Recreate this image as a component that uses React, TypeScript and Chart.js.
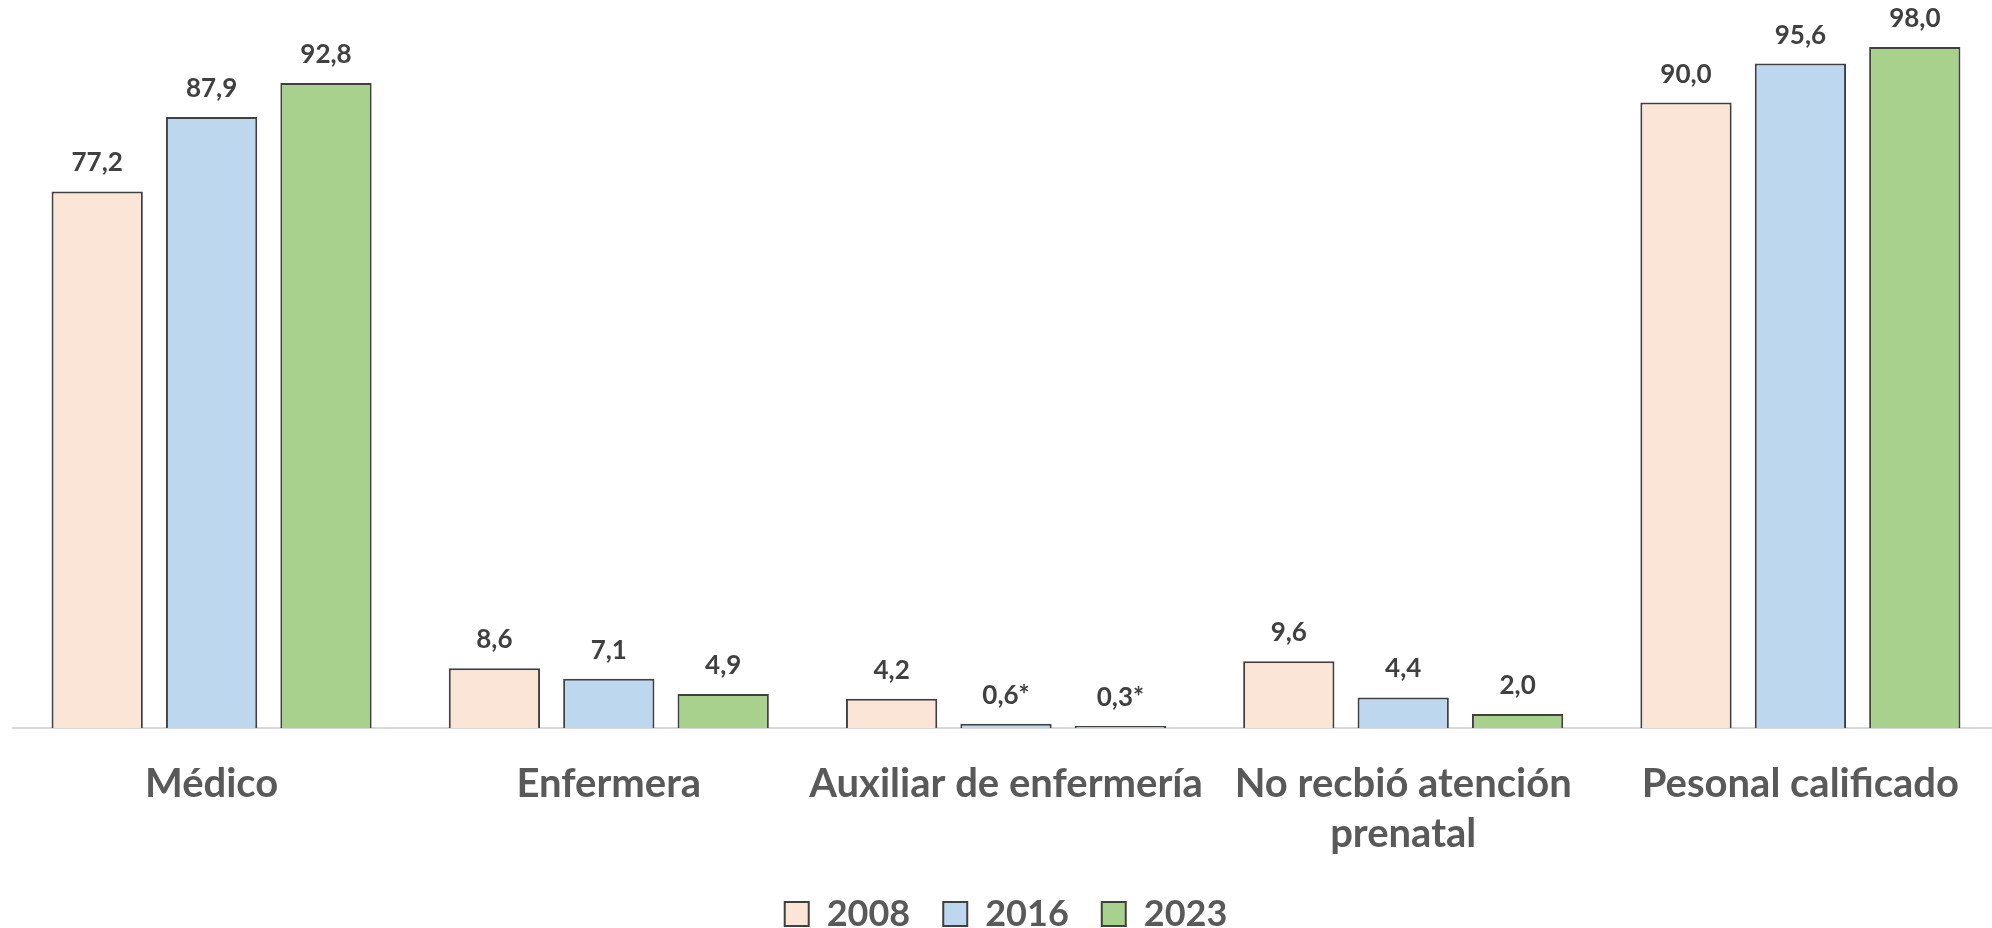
import React, { useEffect, useRef } from "react";
import { Chart, registerables } from "chart.js";

Chart.register(...registerables);

const categories: (string | string[])[] = [
  "Médico",
  "Enfermera",
  "Auxiliar de enfermería",
  ["No recbió atención", "prenatal"],
  "Pesonal calificado",
];

const seriesNames = ["2008", "2016", "2023"];

const values2008 = [77.2, 8.6, 4.2, 9.6, 90.0];
const values2016 = [87.9, 7.1, 0.6, 4.4, 95.6];
const values2023 = [92.8, 4.9, 0.3, 2.0, 98.0];

// "*" marks shown next to some data labels
const notes2008 = ["", "", "", "", ""];
const notes2016 = ["", "", "*", "", ""];
const notes2023 = ["", "", "*", "", ""];

const fillColors = ["#FBE5D6", "#BDD7EE", "#A9D18E"];
const borderColor = "#404040";
const FONT = "Lato";

const fmt = (v: number) => v.toFixed(1).replace(".", ",");

const dataLabelPlugin = {
  id: "dataLabels",
  afterDatasetsDraw(chart: any) {
    const ctx = chart.ctx;
    ctx.save();
    ctx.font = `bold 26px ${FONT}`;
    ctx.fillStyle = "#404040";
    ctx.textAlign = "center";
    ctx.textBaseline = "alphabetic";
    chart.data.datasets.forEach((ds: any, di: number) => {
      const meta = chart.getDatasetMeta(di);
      meta.data.forEach((bar: any, i: number) => {
        const v = ds.data[i];
        const note = ds.notes ? ds.notes[i] : "";
        ctx.fillText(fmt(v) + note, bar.x, bar.y - 20);
      });
    });
    ctx.restore();
  },
};

export default function App() {
  const canvasRef = useRef<HTMLCanvasElement | null>(null);

  useEffect(() => {
    if (!canvasRef.current) return;
    const allValues = [values2008, values2016, values2023];
    const allNotes = [notes2008, notes2016, notes2023];
    const chart = new Chart(canvasRef.current, {
      type: "bar",
      data: {
        labels: categories,
        datasets: seriesNames.map((name, k) => ({
          label: name,
          data: allValues[k],
          notes: allNotes[k],
          backgroundColor: fillColors[k],
          borderColor: borderColor,
          borderWidth: 2,
          categoryPercentage: 0.864,
          barPercentage: 0.798,
        })) as any,
      },
      options: {
        responsive: false,
        animation: false,
        events: [],
        layout: { padding: { left: 13, right: 0, top: 33, bottom: -14 } },
        scales: {
          x: {
            grid: { display: false, drawTicks: false },
            border: { display: true, color: "#D9D9D9", width: 2 },
            afterFit: (scale: any) => {
              scale.height = 135;
            },
            ticks: {
              autoSkip: false,
              maxRotation: 0,
              minRotation: 0,
              padding: 31,
              color: "#595959",
              font: { family: FONT, size: 40, weight: "bold", lineHeight: 1.25 },
            },
          },
          y: {
            display: false,
            min: 0,
            max: 100,
          },
        },
        plugins: {
          tooltip: { enabled: false },
          legend: {
            position: "bottom",
            labels: {
              boxWidth: 24,
              boxHeight: 24,
              padding: 33,
              color: "#595959",
              font: { family: FONT, size: 36, weight: "bold" },
            },
          },
        },
      },
      plugins: [dataLabelPlugin],
    });
    return () => chart.destroy();
  }, []);

  return (
    <div
      style={{
        position: "absolute",
        left: 0,
        top: 0,
        width: 1992,
        height: 928,
        overflow: "hidden",
        background: "#fff",
      }}
    >
      <canvas ref={canvasRef} width={1999} height={928} style={{ display: "block" }} />
    </div>
  );
}
